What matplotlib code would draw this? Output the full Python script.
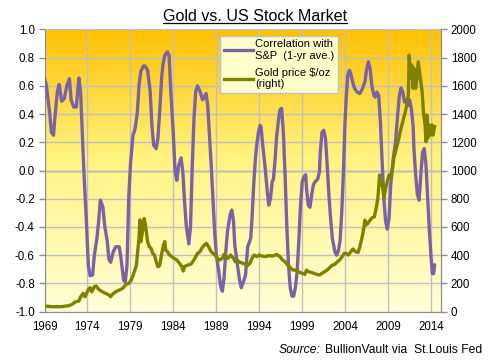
import matplotlib
matplotlib.use("Agg")
import matplotlib.pyplot as plt
import numpy as np
from matplotlib.colors import LinearSegmentedColormap
from matplotlib.lines import Line2D

plt.rcParams['font.family'] = ['Liberation Sans', 'DejaVu Sans']

# correlation of gold with S&P 500 (1-yr average)
corr_years = [1969.0, 1969.2, 1969.6, 1969.8, 1970.05, 1970.2, 1970.5, 1970.7, 1971.0, 1971.3,
              1971.6, 1971.9, 1972.1, 1972.4, 1972.7, 1972.9, 1973.0, 1973.2, 1973.4, 1973.6,
              1973.9, 1974.1, 1974.3, 1974.6, 1974.8, 1975.1, 1975.3, 1975.5, 1975.8, 1976.0,
              1976.3, 1976.5, 1976.7, 1977.0, 1977.3, 1977.7, 1977.9, 1978.2, 1978.4, 1978.6,
              1978.8, 1979.0, 1979.3, 1979.5, 1979.6, 1979.8, 1980.0, 1980.2, 1980.5, 1980.7,
              1981.0, 1981.3, 1981.5, 1981.7, 1982.0, 1982.2, 1982.4, 1982.65, 1982.8, 1983.0,
              1983.3, 1983.5, 1983.7, 1984.0, 1984.2, 1984.4, 1984.6, 1984.9, 1985.1, 1985.3,
              1985.5, 1985.8, 1986.0, 1986.2, 1986.4, 1986.6, 1986.8, 1987.1, 1987.4, 1987.6,
              1987.8, 1988.0, 1988.2, 1988.4, 1988.6, 1988.8, 1989.0, 1989.3, 1989.5, 1989.7,
              1989.9, 1990.1, 1990.3, 1990.6, 1990.8, 1991.0, 1991.15, 1991.4, 1991.7, 1991.9,
              1992.2, 1992.4, 1992.65, 1993.0, 1993.15, 1993.35, 1993.55, 1993.7, 1993.9, 1994.1,
              1994.2, 1994.4, 1994.7, 1994.9, 1995.1, 1995.3, 1995.5, 1995.65, 1995.85, 1996.0,
              1996.2, 1996.4, 1996.6, 1996.8, 1997.0, 1997.2, 1997.4, 1997.6, 1997.8, 1998.0,
              1998.2, 1998.4, 1998.6, 1998.8, 1999.0, 1999.2, 1999.4, 1999.5, 1999.7, 1999.9,
              2000.1, 2000.3, 2000.5, 2000.8, 2001.0, 2001.1, 2001.3, 2001.5, 2001.7, 2001.9,
              2002.1, 2002.3, 2002.5, 2002.8, 2003.0, 2003.2, 2003.4, 2003.6, 2003.8, 2003.95,
              2004.1, 2004.3, 2004.5, 2004.65, 2004.85, 2005.1, 2005.4, 2005.7, 2006.0, 2006.3,
              2006.5, 2006.7, 2006.9, 2007.1, 2007.35, 2007.5, 2007.7, 2007.9, 2008.1, 2008.3,
              2008.5, 2008.7, 2008.9, 2009.1, 2009.3, 2009.6, 2009.85, 2010.1, 2010.3, 2010.5,
              2010.7, 2010.9, 2011.1, 2011.3, 2011.5, 2011.7, 2011.9, 2012.0, 2012.2, 2012.4,
              2012.6, 2012.8, 2013.0, 2013.2, 2013.4, 2013.6, 2013.8, 2014.0, 2014.15, 2014.3,
              2014.4]
corr_vals = [0.65, 0.61, 0.41, 0.27, 0.25, 0.37, 0.56, 0.61, 0.49, 0.51,
             0.60, 0.65, 0.50, 0.45, 0.45, 0.59, 0.655, 0.56, 0.27, -0.03,
             -0.39, -0.67, -0.745, -0.74, -0.60, -0.48, -0.36, -0.21, -0.26, -0.39,
             -0.50, -0.63, -0.65, -0.575, -0.54, -0.54, -0.62, -0.775, -0.79, -0.67,
             -0.20, 0.04, 0.25, 0.285, 0.32, 0.41, 0.60, 0.70, 0.74, 0.74,
             0.71, 0.56, 0.32, 0.18, 0.155, 0.23, 0.41, 0.67, 0.755, 0.815,
             0.84, 0.815, 0.56, 0.25, -0.01, -0.07, 0.03, 0.09, -0.01, -0.22,
             -0.39, -0.52, -0.39, 0.04, 0.37, 0.56, 0.60, 0.56, 0.50, 0.52,
             0.545, 0.46, 0.25, 0.04, -0.20, -0.43, -0.60, -0.72, -0.82, -0.855,
             -0.76, -0.575, -0.43, -0.315, -0.28, -0.36, -0.53, -0.645, -0.775, -0.83,
             -0.78, -0.74, -0.54, -0.48, -0.34, -0.10, 0.085, 0.18, 0.27, 0.32,
             0.31, 0.18, 0.01, -0.13, -0.245, -0.20, -0.08, -0.06, 0.085, 0.23,
             0.34, 0.43, 0.44, 0.27, -0.03, -0.39, -0.67, -0.83, -0.89, -0.89,
             -0.83, -0.72, -0.50, -0.245, -0.08, -0.045, -0.03, -0.13, -0.245, -0.26,
             -0.17, -0.10, -0.08, -0.06, -0.01, 0.13, 0.27, 0.285, 0.23, 0.04,
             -0.17, -0.34, -0.48, -0.575, -0.60, -0.57, -0.50, -0.29, 0.0, 0.30,
             0.50, 0.68, 0.71, 0.685, 0.63, 0.58, 0.555, 0.545, 0.58, 0.63,
             0.72, 0.77, 0.72, 0.60, 0.53, 0.52, 0.555, 0.53, 0.34, 0.06,
             -0.20, -0.36, -0.415, -0.34, -0.10, 0.085, 0.20, 0.39, 0.53, 0.585,
             0.555, 0.485, 0.50, 0.46, 0.50, 0.44, 0.32, 0.155, -0.03, -0.17,
             -0.21, -0.03, 0.13, 0.155, 0.04, -0.20, -0.43, -0.62, -0.73, -0.73,
             -0.67]

# gold price in $/oz (right axis)
gold_years = [1969.0, 1970.0, 1971.0, 1971.8, 1972.2, 1972.6, 1973.0, 1973.2, 1973.5, 1973.7,
              1974.1, 1974.3, 1974.5, 1974.8, 1975.0, 1975.3, 1975.7, 1976.1, 1976.5, 1976.7,
              1976.9, 1977.3, 1977.7, 1978.1, 1978.5, 1978.8, 1979.1, 1979.4, 1979.7, 1979.8,
              1980.0, 1980.1, 1980.2, 1980.4, 1980.6, 1980.75, 1980.85, 1981.0, 1981.2, 1981.4,
              1981.6, 1981.8, 1982.0, 1982.2, 1982.4, 1982.65, 1982.85, 1983.0, 1983.1, 1983.3,
              1983.5, 1983.8, 1984.1, 1984.4, 1984.7, 1985.0, 1985.15, 1985.3, 1985.65, 1986.0,
              1986.2, 1986.5, 1986.8, 1987.1, 1987.3, 1987.6, 1987.85, 1988.1, 1988.35, 1988.6,
              1988.85, 1989.1, 1989.4, 1989.7, 1989.9, 1990.1, 1990.35, 1990.65, 1991.0, 1991.2,
              1991.5, 1991.8, 1992.1, 1992.4, 1992.6, 1992.9, 1993.15, 1993.4, 1993.7, 1994.0,
              1994.3, 1994.7, 1995.1, 1995.5, 1995.85, 1996.0, 1996.4, 1996.7, 1997.0, 1997.3,
              1997.6, 1997.9, 1998.2, 1998.4, 1998.7, 1999.0, 1999.3, 1999.5, 1999.7, 2000.0,
              2000.35, 2000.7, 2001.0, 2001.3, 2001.6, 2001.9, 2002.2, 2002.5, 2002.8, 2003.0,
              2003.35, 2003.65, 2003.9, 2004.1, 2004.35, 2004.65, 2004.9, 2005.2, 2005.5, 2005.7,
              2005.9, 2006.1, 2006.3, 2006.4, 2006.65, 2006.9, 2007.15, 2007.4, 2007.6, 2007.8,
              2008.0, 2008.1, 2008.3, 2008.5, 2008.7, 2008.9, 2009.1, 2009.3, 2009.5, 2009.65,
              2009.85, 2010.0, 2010.2, 2010.4, 2010.6, 2010.8, 2011.0, 2011.2, 2011.35, 2011.45,
              2011.6, 2011.75, 2011.9, 2012.0, 2012.2, 2012.35, 2012.5, 2012.65, 2012.8, 2012.95,
              2013.1, 2013.3, 2013.4, 2013.5, 2013.6, 2013.8, 2013.9, 2014.1, 2014.2, 2014.4]
gold_vals = [40, 35, 36, 42, 52, 70, 75, 105, 130, 105,
             155, 170, 140, 177, 182, 158, 142, 130, 118, 106,
             123, 142, 153, 165, 194, 200, 224, 272, 330, 400,
             520, 650, 495, 567, 660, 614, 567, 496, 460, 449,
             413, 401, 354, 319, 326, 413, 472, 496, 437, 425,
             406, 390, 378, 366, 342, 319, 288, 319, 330, 335,
             349, 378, 413, 425, 449, 472, 484, 460, 430, 413,
             401, 378, 366, 378, 406, 394, 378, 401, 378, 354,
             361, 349, 342, 335, 326, 342, 378, 401, 390, 401,
             394, 390, 397, 394, 401, 406, 390, 366, 354, 330,
             312, 295, 295, 288, 279, 272, 264, 295, 283, 279,
             272, 264, 260, 272, 283, 295, 312, 330, 335, 349,
             366, 390, 413, 413, 401, 425, 444, 425, 420, 460,
             508, 567, 649, 614, 626, 649, 666, 673, 732, 803,
             968, 897, 921, 803, 874, 921, 968, 956, 1015, 1086,
             1133, 1169, 1216, 1275, 1322, 1370, 1417, 1476, 1535, 1818,
             1653, 1747, 1582, 1724, 1582, 1653, 1771, 1700, 1629, 1559,
             1417, 1322, 1204, 1393, 1228, 1322, 1251, 1322, 1251, 1310]

x_ticks = [1969, 1974, 1979, 1984, 1989, 1994, 1999, 2004, 2009, 2014]
left_ticks = [-1.0, -0.8, -0.6, -0.4, -0.2, 0.0, 0.2, 0.4, 0.6, 0.8, 1.0]
right_ticks = list(range(0, 2001, 200))

purple = '#7B62A6'
olive = '#7F7F00'
grid_c = '#C0C0C0'

fig = plt.figure(figsize=(4.88, 3.62), dpi=100)
fig.patch.set_facecolor('white')
ax = fig.add_axes([0.0912, 0.139, 0.8125, 0.780])

# background gradient
cmap = LinearSegmentedColormap.from_list('bg', [(0.0, '#FFC000'), (0.45, '#FFF380'), (1.0, '#FFFFD8')])
grad = np.linspace(0, 1, 256).reshape(-1, 1)
ax.imshow(grad, cmap=cmap, aspect='auto', extent=[0, 1, 0, 1], transform=ax.transAxes, zorder=0)

ax.set_xlim(1969, 2015.15)
ax.set_ylim(-1.0, 1.0)
ax.set_xticks(x_ticks)
ax.set_yticks(left_ticks)
ax.set_yticklabels(['%.1f' % v for v in left_ticks])
ax.grid(True, color=grid_c, lw=1.0, zorder=1)
ax.axhline(0, color='#8C8C8C', lw=1.0, zorder=1.5)
ax.plot(corr_years, corr_vals, color=purple, lw=2.4, zorder=3, solid_joinstyle='round')

for s in ['left', 'bottom', 'right']:
    ax.spines[s].set_color('#8C8C8C')
ax.spines['top'].set_color(grid_c)
ax.tick_params(axis='y', direction='out', length=4, width=1, color='#8C8C8C', labelsize=8.3, pad=3)
ax.tick_params(axis='x', length=0, labelsize=8.3, pad=7)

ax2 = ax.twinx()
ax2.set_ylim(0, 2000)
ax2.set_yticks(right_ticks)
ax2.plot(gold_years, gold_vals, color=olive, lw=2.4, zorder=3, solid_joinstyle='round')
for s in ['left', 'bottom', 'top']:
    ax2.spines[s].set_visible(False)
ax2.spines['right'].set_color('#8C8C8C')
ax2.tick_params(axis='y', direction='out', length=4, width=1, color='#8C8C8C', labelsize=8.3, pad=3)

handles = [Line2D([], [], color=purple, lw=2.4), Line2D([], [], color=olive, lw=2.4)]
leg = ax2.legend(handles, ['Correlation with\nS&P  (1-yr ave.)', 'Gold price $/oz\n(right)'],
                 loc='upper left', bbox_to_anchor=(0.443, 0.978), fontsize=8.0,
                 frameon=True, fancybox=False, facecolor='#FFFFCC', edgecolor='#BFBFBF',
                 framealpha=1, handlelength=2.6, handletextpad=0.2, labelspacing=0.6,
                 borderpad=0.35, borderaxespad=0)
leg.get_frame().set_linewidth(1.0)

# title with underline
title = fig.text(0.5225, 0.943, 'Gold vs. US Stock Market', ha='center', va='baseline', fontsize=11.5)
fig.canvas.draw()
r = fig.canvas.get_renderer()
bb = title.get_window_extent(r).transformed(fig.transFigure.inverted())
fig.add_artist(Line2D([bb.x0, bb.x1], [0.937, 0.937], color='black', lw=0.9, transform=fig.transFigure))

# source note, italic "Source:"
src = fig.text(0.988, 0.026, 'BullionVault via  St.Louis Fed', ha='right', va='baseline', fontsize=8.7)
fig.canvas.draw()
sb = src.get_window_extent(r).transformed(fig.transFigure.inverted())
fig.text(sb.x0 - 0.008, 0.026, 'Source:', ha='right', va='baseline', fontsize=8.7, style='italic')

fig.savefig('out.png', dpi=100)
